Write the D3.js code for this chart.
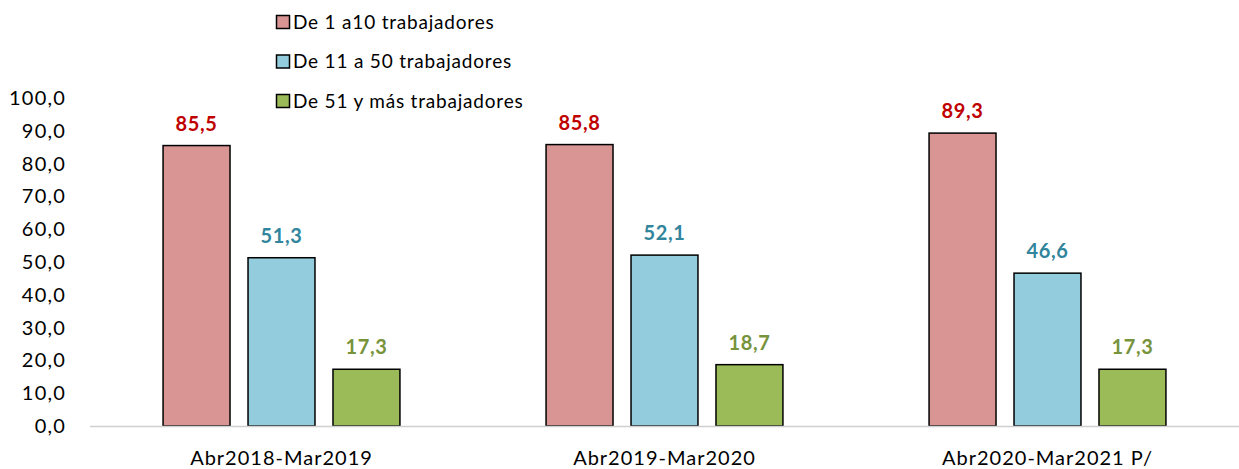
<!DOCTYPE html><html>
<head>
    <meta charset="utf-8">
    <script src="https://cdn.jsdelivr.net/npm/d3@7/dist/d3.min.js"></script>
    <style>
        body { margin: 0; background: #fff; }
        text { font-family: Lato, "Open Sans", sans-serif; }
    </style>
</head>
<body>
<script>
    var categories = ["Abr2018-Mar2019", "Abr2019-Mar2020", "Abr2020-Mar2021 P/"];
    var seriesNames = ["De 1 a10 trabajadores", "De 11 a 50 trabajadores", "De 51 y más trabajadores"];
    var small = [85.5, 85.8, 89.3];
    var medium = [51.3, 52.1, 46.6];
    var large = [17.3, 18.7, 17.3];
    var yTicks = [0, 10, 20, 30, 40, 50, 60, 70, 80, 90, 100];

    var fills = ["#d99594", "#93cddd", "#9bbb59"];
    var labelColors = ["#c00000", "#31859c", "#77933c"];

    var width = 1239, height = 469;
    var svg = d3.select("body").append("svg")
        .attr("width", width).attr("height", height);

    var x0 = d3.scaleBand().domain(categories).range([90, 1239]).paddingInner(0).paddingOuter(0);
    var x1 = d3.scaleBand().domain([0, 1, 2]).range([0, x0.bandwidth()]).paddingInner(0.212).paddingOuter(0.86);
    var y = d3.scaleLinear().domain([0, 100]).range([426, 98]);

    var fmt = function (v) { return d3.format(".1f")(v).replace(".", ","); };

    // y tick labels (no axis line)
    svg.append("g").selectAll("text").data(yTicks).enter().append("text")
        .attr("x", 66).attr("y", function (d) { return y(d); })
        .attr("dy", "0.35em").attr("text-anchor", "end")
        .attr("font-size", 20).attr("letter-spacing", 1.2).attr("fill", "#000")
        .text(fmt);

    var series = [small, medium, large];
    var g = svg.append("g");
    series.forEach(function (vals, si) {
        g.selectAll(".b" + si).data(vals).enter().append("rect")
            .attr("x", function (d, i) { return x0(categories[i]) + x1(si); })
            .attr("y", function (d) { return y(d); })
            .attr("width", x1.bandwidth())
            .attr("height", function (d) { return y(0) - y(d); })
            .attr("fill", fills[si]).attr("stroke", "#000").attr("stroke-width", 1.5);
        g.selectAll(".l" + si).data(vals).enter().append("text")
            .attr("x", function (d, i) { return x0(categories[i]) + x1(si) + x1.bandwidth() / 2; })
            .attr("y", function (d) { return y(d) - 15; })
            .attr("text-anchor", "middle").attr("font-size", 20).attr("font-weight", "bold")
            .attr("letter-spacing", 0.6)
            .attr("fill", labelColors[si])
            .text(fmt);
    });

    // baseline
    svg.append("line").attr("x1", 90).attr("x2", 1239).attr("y1", y(0) + 0.5).attr("y2", y(0) + 0.5)
        .attr("stroke", "#d0d0d0").attr("stroke-width", 1.5);

    // category labels
    svg.append("g").selectAll("text").data(categories).enter().append("text")
        .attr("x", function (d) { return x0(d) + x0.bandwidth() / 2; })
        .attr("y", 458).attr("dy", "0.35em").attr("text-anchor", "middle")
        .attr("font-size", 20).attr("letter-spacing", 1).attr("fill", "#000")
        .text(function (d) { return d; });

    // legend
    var leg = svg.append("g").selectAll("g").data(seriesNames).enter().append("g")
        .attr("transform", function (d, i) { return "translate(276," + (22 + i * 39.5) + ")"; });
    leg.append("rect").attr("x", 0.5).attr("y", -6.5).attr("width", 13).attr("height", 13)
        .attr("fill", function (d, i) { return fills[i]; }).attr("stroke", "#000").attr("stroke-width", 1.5);
    leg.append("text").attr("x", 17).attr("dy", "0.35em").attr("font-size", 19).attr("letter-spacing", 0.8)
        .attr("fill", "#000")
        .text(function (d) { return d; });
</script>
</body></html>
